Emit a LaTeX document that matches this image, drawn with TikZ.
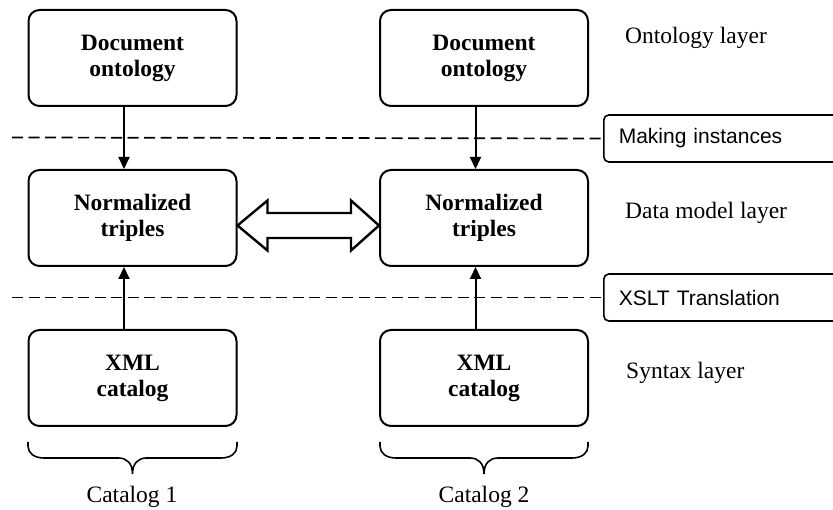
\documentclass[tikz,border=0pt]{standalone}
\usepackage{fontspec}
\setmainfont{Liberation Serif}
\newfontfamily\arialf{Liberation Sans}
\usetikzlibrary{arrows.meta,calc}
\begin{document}
\begin{tikzpicture}[x=1pt,y=-1pt,
  mainbox/.style={draw, line width=2pt, rounded corners=11pt, minimum width=208pt, minimum height=96pt, align=center, font=\fontsize{23.5}{26}\selectfont\bfseries, inner sep=0pt},
  layerlabel/.style={anchor=west, font=\fontsize{23.5}{26}\selectfont, inner sep=0pt},
  labelbox/.style={draw, line width=1.6pt, rounded corners=5pt, anchor=west, minimum height=47pt, text width=220pt, inner xsep=15pt, align=left, font=\arialf\fontsize{21}{24}\selectfont},
  conn/.style={line width=2pt, -{Triangle[length=12pt,width=11pt]}},
  sep/.style={line width=1.7pt, dash pattern=on 11pt off 5.5pt},
  bigarrow/.style={draw, line width=2.4pt, fill=white, line join=miter},
  bracepath/.style={line width=1.6pt}
]
\useasboundingbox (0,0) rectangle (833,510);

% main boxes
\node[mainbox] (do1) at (132.5,58) {Document\\ontology};
\node[mainbox] (do2) at (484,58) {Document\\ontology};
\node[mainbox] (nt1) at (132.5,218) {Normalized\\triples};
\node[mainbox] (nt2) at (484,218) {Normalized\\triples};
\node[mainbox] (xc1) at (132.5,378) {XML\\catalog};
\node[mainbox] (xc2) at (484,378) {XML\\catalog};

% side label boxes
\node[labelbox] (mi) at (603,138.5) {Making instances};
\node[labelbox] (xt) at (603,297.5) {XSLT Translation};

% dashed separators
\coordinate (d1) at (12,137.5);
\coordinate (d2) at (12,297.5);
\draw[sep] (d1) -- (mi.west);
\draw[sep] (d2) -- (xt.west);

% layer labels
\node[layerlabel] (ol) at (625,38) {Ontology layer};
\node[layerlabel] (dl) at (625,213) {Data model layer};
\node[layerlabel] (sl) at (626,373) {Syntax layer};

% connectors
\draw[conn] ($(do1.south)+(-8.5,0)$) -- ($(nt1.north)+(-8.5,0)$);
\draw[conn] ($(do2.south)+(-8.5,0)$) -- ($(nt2.north)+(-8.5,0)$);
\draw[conn] ($(xc1.north)+(-8.5,0)$) -- ($(nt1.south)+(-8.5,0)$);
\draw[conn] ($(xc2.north)+(-8.5,0)$) -- ($(nt2.south)+(-8.5,0)$);

% double block arrow
\coordinate (la) at ($(nt1.east)+(0,7.5)$);
\coordinate (ra) at ($(nt2.west)+(0,7.5)$);
\draw[bigarrow] (la) -- ++(30,-25) -- ++(0,12.5) -- ($(ra)+(-28,-12.5)$) -- ++(0,-12.5) -- (ra)
  -- ++(-28,25) -- ++(0,-12.5) -- ($(la)+(30,12.5)$) -- ++(0,12.5) -- cycle;

% braces
\foreach \b/\l/\r/\m in {1/28/237/132.5, 2/380/588/484}{
  \draw[bracepath] (\l,442) -- (\l,446) .. controls (\l,453) and (\l+6,458) .. (\l+16,458)
    -- (\m-14,458) .. controls (\m-6,458) and (\m,463) .. (\m,474)
    .. controls (\m,463) and (\m+6,458) .. (\m+14,458)
    -- (\r-16,458) .. controls (\r-6,458) and (\r,453) .. (\r,446) -- (\r,442);
}
\node[font=\fontsize{23.5}{26}\selectfont, inner sep=0pt] (c1) at (132,497) {Catalog 1};
\node[font=\fontsize{23.5}{26}\selectfont, inner sep=0pt] (c2) at (484,497) {Catalog 2};
\end{tikzpicture}
\end{document}
